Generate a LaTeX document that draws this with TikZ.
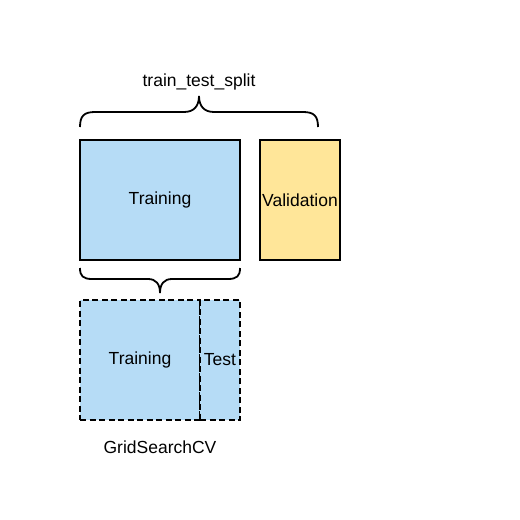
\documentclass[tikz,border=0pt]{standalone}
\usepackage{fontspec}
\setmainfont{Liberation Sans}
\usetikzlibrary{positioning, calc}

\begin{document}
\begin{tikzpicture}[x=1pt, y=-1pt]
        % Màu sắc
        \definecolor{trainblue}{RGB}{182,220,246}
        \definecolor{valyellow}{RGB}{255,230,153}

        \tikzset{
            block/.style={draw=black, line width=2pt, inner sep=0pt, font=\fontsize{17.5}{20}\selectfont},
            dashblock/.style={block, dash pattern=on 6pt off 3.5pt},
            bracestyle/.style={draw=black, line width=1.8pt},
            caption/.style={font=\fontsize{17.5}{20}\selectfont}
        }

        % Khung trang
        \useasboundingbox (0,0) rectangle (520,520);

        % Các khối trên
        \node[block, fill=trainblue, minimum width=160pt, minimum height=120pt] (train) at (160,200) {Training};
        \node[block, fill=valyellow, minimum width=80pt, minimum height=120pt] (valid) at (300,200) {Validation};

        % Các khối dưới (GridSearchCV)
        \node[dashblock, fill=trainblue, minimum width=120pt, minimum height=120pt] (gtrain) at (140,360) {Training};
        \node[dashblock, fill=trainblue, minimum width=40pt, minimum height=120pt] (gtest) at (220,360) {Test};

        % Ngoặc nhọn trên
        \draw[bracestyle] (80,127) .. controls (80,116) and (84,112) .. (95,112) -- (184,112)
            .. controls (194,112) and (199,106) .. (199,96)
            .. controls (199,106) and (204,112) .. (214,112) -- (303,112)
            .. controls (314,112) and (318,116) .. (318,127);
        \node[caption] (split) at (199,82) {train\_test\_split};

        % Ngoặc nhọn dưới
        \draw[bracestyle] (80,268) .. controls (80,276) and (83,279) .. (92,279) -- (148,279)
            .. controls (156,279) and (160,284) .. (160,293)
            .. controls (160,284) and (164,279) .. (172,279) -- (228,279)
            .. controls (237,279) and (240,276) .. (240,268);
        \node[caption] (cv) at (160,447) {GridSearchCV};
    \end{tikzpicture}
\end{document}
